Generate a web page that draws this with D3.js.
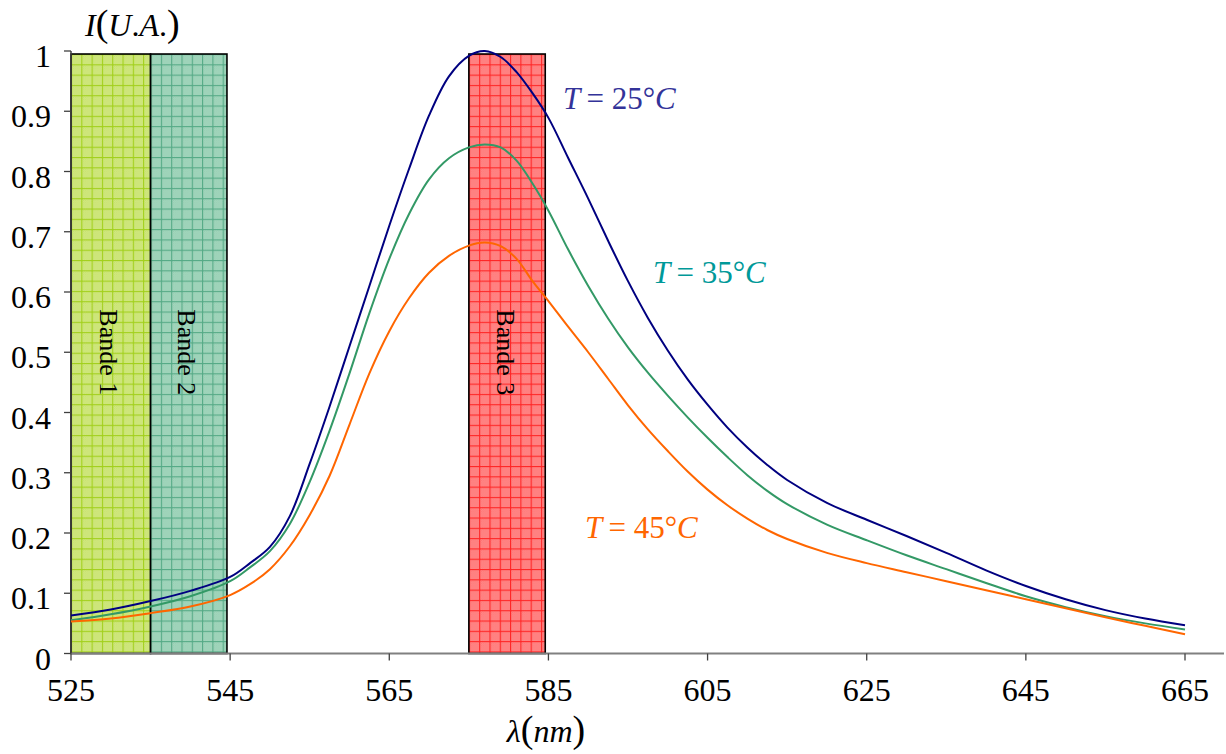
<!DOCTYPE html>
<html><head><meta charset="utf-8">
<script src="https://cdn.jsdelivr.net/npm/d3@7"></script>
<style>body{margin:0;background:#fff}svg{display:block}text{font-family:"Liberation Serif","Times New Roman",serif}</style>
</head><body>
<svg id="c" width="1226" height="754"></svg>
<script>
const wavelengths = [525,530,535,540,545,547.5,550,552.5,555,557.5,560,562.5,565,567.5,570,572.5,575,577,579,581,583,585,587.5,590,592.5,595,597.5,600,602.5,605,607.5,610,612.5,615,620,625,630,635,640,645,650,655,660,665];
const t25 = [0.063,0.073,0.087,0.104,0.127,0.15,0.177,0.228,0.315,0.41,0.51,0.61,0.71,0.805,0.893,0.958,0.992,1.0,0.99,0.965,0.93,0.889,0.822,0.755,0.685,0.618,0.557,0.503,0.455,0.413,0.375,0.342,0.313,0.288,0.25,0.222,0.195,0.167,0.138,0.112,0.09,0.072,0.058,0.047];
const t35 = [0.055,0.065,0.078,0.095,0.12,0.143,0.17,0.215,0.285,0.37,0.465,0.565,0.655,0.73,0.787,0.822,0.84,0.845,0.84,0.818,0.78,0.735,0.67,0.61,0.556,0.508,0.466,0.428,0.392,0.358,0.326,0.296,0.27,0.248,0.214,0.188,0.163,0.14,0.117,0.095,0.077,0.062,0.05,0.04];
const t45 = [0.053,0.058,0.067,0.078,0.097,0.115,0.14,0.178,0.23,0.295,0.38,0.465,0.535,0.59,0.632,0.66,0.677,0.682,0.676,0.655,0.618,0.585,0.542,0.5,0.456,0.412,0.372,0.336,0.302,0.272,0.246,0.224,0.205,0.19,0.167,0.15,0.135,0.12,0.105,0.09,0.075,0.06,0.046,0.032];
const seriesNames = ["T = 25°C","T = 35°C","T = 45°C"];
const bandNames = ["Bande 1","Bande 2","Bande 3"];
const bandStart = [525,535,575];
const bandEnd = [535,544.6,584.6];
const bandTop = 0.995;
const xTicks = [525,545,565,585,605,625,645,665];
const yTicks = [0,0.1,0.2,0.3,0.4,0.5,0.6,0.7,0.8,0.9,1];

const svg = d3.select("#c");
const x = d3.scaleLinear().domain([525,665]).range([71,1185]);
const y = d3.scaleLinear().domain([0,1]).range([653.5,51]);

// patterns
const defs = svg.append("defs");
const pat = [
  {id:"p1", base:"#d6eb8a", alt:"#c4e06a", line:"#a2d01c"},
  {id:"p2", base:"#a8dac2", alt:"#94ccb0", line:"#55aa86"},
  {id:"p3", base:"#ff8e8e", alt:"#ff7474", line:"#ff2626"}
];
pat.forEach((p,i)=>{
  const s = 10.3;
  const dp = defs.append("pattern").attr("id",p.id+"d").attr("patternUnits","userSpaceOnUse").attr("width",2).attr("height",2);
  dp.append("rect").attr("width",2).attr("height",2).attr("fill",p.base);
  dp.append("rect").attr("width",1).attr("height",1).attr("fill",p.alt);
  dp.append("rect").attr("x",1).attr("y",1).attr("width",1).attr("height",1).attr("fill",p.alt);
  const pt = defs.append("pattern").attr("id",p.id).attr("patternUnits","userSpaceOnUse")
    .attr("x", x(bandStart[i])).attr("y", y(bandTop)).attr("width", s).attr("height", s);
  pt.append("rect").attr("width",s).attr("height",s).attr("fill","url(#"+p.id+"d)");
  pt.append("line").attr("x1",0.5).attr("x2",0.5).attr("y1",0).attr("y2",s).attr("stroke",p.line).attr("stroke-width",1.2);
  pt.append("line").attr("y1",0.5).attr("y2",0.5).attr("x1",0).attr("x2",s).attr("stroke",p.line).attr("stroke-width",1.2);
});

// bands
const bands = bandNames.map((n,i)=>({n, s:bandStart[i], e:bandEnd[i], p:pat[i].id}));
svg.append("g").selectAll("rect").data(bands).join("rect")
  .attr("x", d=>x(d.s)).attr("y", y(bandTop))
  .attr("width", d=>x(d.e)-x(d.s)).attr("height", y(0)-y(bandTop))
  .attr("fill", d=>"url(#"+d.p+")").attr("stroke","#000").attr("stroke-width",1.6);
svg.append("g").selectAll("text").data(bands).join("text")
  .attr("transform", d=>`translate(${(x(d.s)+x(d.e))/2-2},${y(0.5)}) rotate(90)`)
  .attr("text-anchor","middle").attr("dominant-baseline","central")
  .attr("font-size",26).attr("fill","#000").text(d=>d.n);

// axes
const ax = svg.append("g");
ax.append("line").attr("x1",x(525)).attr("x2",1224).attr("y1",y(0)).attr("y2",y(0)).attr("stroke","#808080").attr("stroke-width",2);
ax.append("line").attr("x1",x(525)).attr("x2",x(525)).attr("y1",y(1)).attr("y2",y(0)).attr("stroke","#404040").attr("stroke-width",1.5);
ax.selectAll(".xt").data(xTicks).join("line").attr("class","xt")
  .attr("x1",d=>x(d)).attr("x2",d=>x(d)).attr("y1",y(0)).attr("y2",y(0)+7).attr("stroke","#404040").attr("stroke-width",1.3);
ax.selectAll(".xl").data(xTicks).join("text").attr("class","xl")
  .attr("x",d=>x(d)).attr("y",701).attr("text-anchor","middle").attr("font-size",32).text(d=>d);
ax.selectAll(".yt").data(yTicks).join("line").attr("class","yt")
  .attr("x1",x(525)-7).attr("x2",x(525)).attr("y1",d=>y(d)).attr("y2",d=>y(d)).attr("stroke","#404040").attr("stroke-width",1.3);
ax.selectAll(".yl").data(yTicks).join("text").attr("class","yl")
  .attr("x",51).attr("y",d=>y(d)+16).attr("text-anchor","end").attr("font-size",32).text(d=>d);

// curves
const colors = ["#000080","#339966","#ff6600"];
const labelColors = ["#333399","#009999","#ff6600"];
const data = [t25,t35,t45];
const line = d3.line().x((d,i)=>x(wavelengths[i])).y(d=>y(d)).curve(d3.curveCatmullRom.alpha(0.5));
svg.append("g").selectAll("path").data(data).join("path")
  .attr("d", line).attr("fill","none").attr("stroke",(d,i)=>colors[i]).attr("stroke-width",2);

// series labels
const labPos = [[563,109],[653,283],[585,538]];
seriesNames.forEach((n,i)=>{
  const t = svg.append("text").attr("x",labPos[i][0]).attr("y",labPos[i][1]).attr("font-size",31).attr("fill",labelColors[i]);
  const m = n.match(/^T = (\d+)°C$/);
  t.append("tspan").attr("font-style","italic").text("T");
  t.append("tspan").text("\u2009= " + m[1] + "°");
  t.append("tspan").attr("font-style","italic").text("C");
});

// axis titles
const yt = svg.append("text").attr("x",85).attr("y",36).attr("font-size",32).attr("fill","#000");
yt.append("tspan").attr("font-style","italic").text("I");
yt.append("tspan").attr("font-size",38).text("(");
yt.append("tspan").attr("font-style","italic").text("U");
yt.append("tspan").text(".");
yt.append("tspan").attr("font-style","italic").text("A");
yt.append("tspan").text(".");
yt.append("tspan").attr("font-size",38).text(")");
const xt = svg.append("text").attr("x",546).attr("y",742).attr("text-anchor","middle").attr("font-size",32).attr("fill","#000");
xt.append("tspan").attr("font-style","italic").text("λ");
xt.append("tspan").attr("font-size",38).text("(");
xt.append("tspan").attr("font-style","italic").text("nm");
xt.append("tspan").attr("font-size",38).text(")");
</script>
</body></html>
